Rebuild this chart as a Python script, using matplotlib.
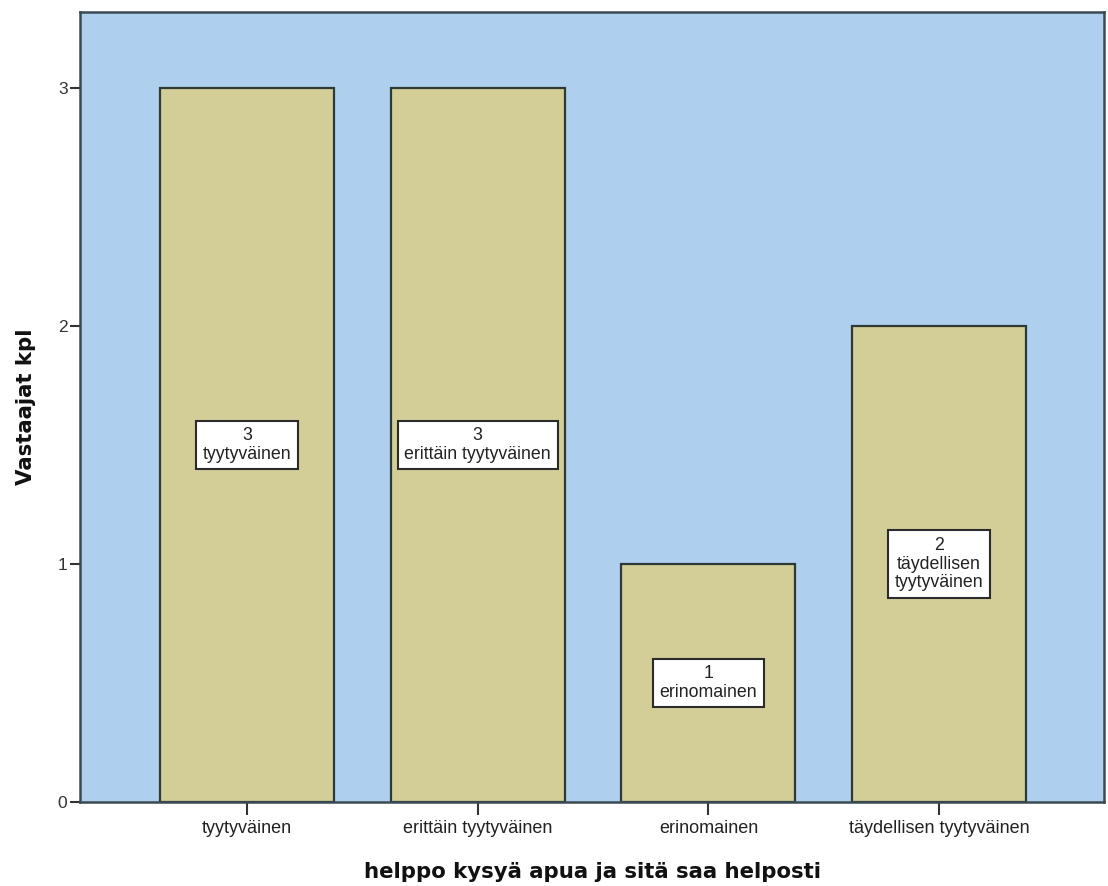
import matplotlib
matplotlib.use("Agg")
import matplotlib.pyplot as plt

categories = ["tyytyväinen", "erittäin tyytyväinen", "erinomainen", "täydellisen tyytyväinen"]
counts = [3, 3, 1, 2]
box_names = ["tyytyväinen", "erittäin tyytyväinen", "erinomainen", "täydellisen\ntyytyväinen"]
y_ticks = [0, 1, 2, 3]

bg = "#AECFEE"
bar_fill = "#D3CE98"
edge = "#2E3A33"

fig = plt.figure(figsize=(11.08, 8.86), dpi=100)
ax = fig.add_axes([80/1108, 1 - 802/886, (1104-80)/1108, (802-12)/886])
ax.set_facecolor(bg)

x = list(range(len(categories)))
ax.bar(x, counts, width=0.754, color=bar_fill, edgecolor=edge, linewidth=1.6, zorder=2)

for xi, c, name in zip(x, counts, box_names):
    ax.text(xi, c / 2, f"{c}\n{name}", ha="center", va="center",
            fontsize=12.8, family="Liberation Sans", color="#222222", linespacing=1.1,
            bbox=dict(boxstyle="square,pad=0.38", facecolor="white", edgecolor="#2b2b2b", linewidth=1.5),
            zorder=3)

ax.set_xlim(-0.724, 3.715)
ax.set_ylim(0, 3.32)
ax.set_yticks(y_ticks)
ax.set_yticklabels([str(t) for t in y_ticks], fontsize=12.5, family="Liberation Sans", color="#333333")
ax.set_xticks(x)
ax.set_xticklabels(categories, fontsize=13, family="Liberation Sans", color="#222222")
ax.tick_params(axis="y", direction="out", length=7, width=1.5, color="#333333", pad=2)
ax.tick_params(axis="x", direction="out", length=9, width=1.5, color="#333333", pad=4)

for s in ax.spines.values():
    s.set_color("#3a4a52")
    s.set_linewidth(1.8)

ax.set_ylabel("Vastaajat kpl", fontsize=15.3, fontweight="bold", family="DejaVu Sans", color="#111111", labelpad=16)
ax.set_xlabel("helppo kysyä apua ja sitä saa helposti", fontsize=15.3, fontweight="bold",
              family="DejaVu Sans", color="#111111", labelpad=18)

fig.savefig("out.png", dpi=100, facecolor="white")
